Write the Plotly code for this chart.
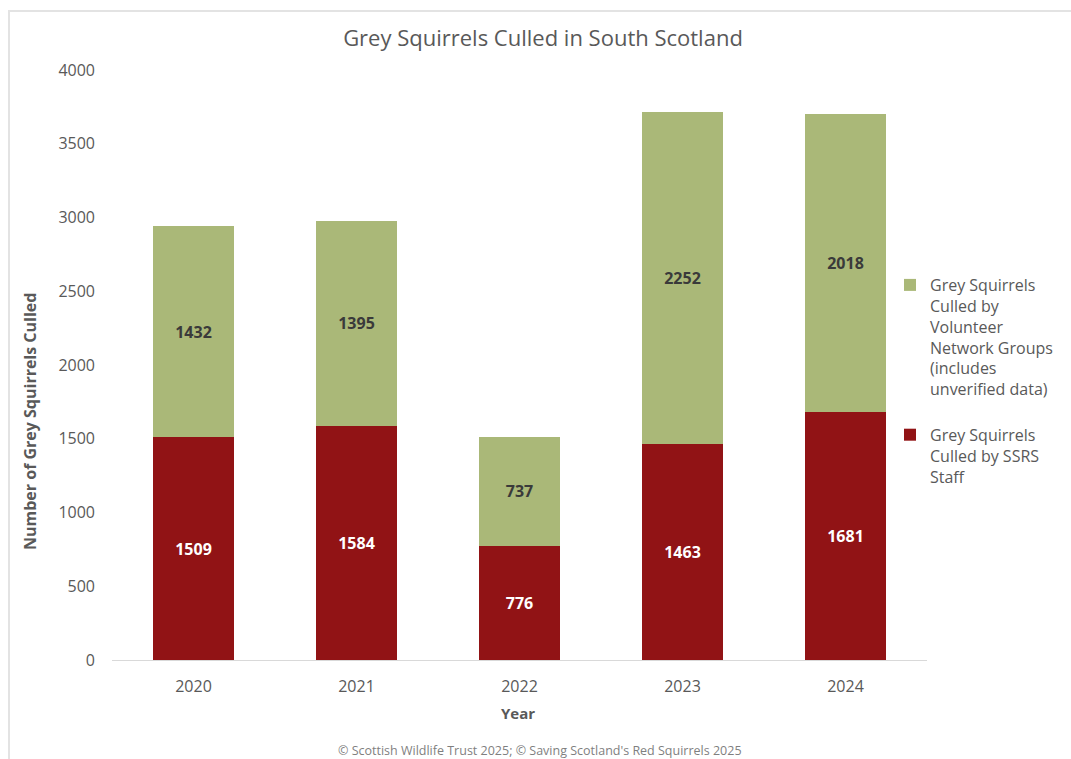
import plotly.graph_objects as go

# Annual grey squirrel culls, South Scotland
years = ["2020", "2021", "2022", "2023", "2024"]
staff_culls = [1509, 1584, 776, 1463, 1681]
volunteer_culls = [1432, 1395, 737, 2252, 2018]
y_ticks = [0, 500, 1000, 1500, 2000, 2500, 3000, 3500, 4000]

staff_name = "Grey Squirrels<br>Culled by SSRS<br>Staff"
volunteer_name = ("Grey Squirrels<br>Culled by<br>Volunteer<br>Network Groups"
                  "<br>(includes<br>unverified data)")

FONT = "Open Sans"
GREY = "#595959"
RED = "#911315"
GREEN = "#aab878"

# plot area in pixels
L, R, T, B = 112, 927, 70, 660
W, H = R - L, B - T

fig = go.Figure()
fig.add_trace(go.Bar(
    x=years, y=staff_culls, name=staff_name,
    marker=dict(color=RED, line=dict(width=0)),
    text=[str(v) for v in staff_culls], textposition="inside",
    insidetextanchor="middle", textangle=0,
    textfont=dict(family=FONT, size=16, color="white", weight="bold"),
    legendgroup="staff", legendrank=2,
))
fig.add_trace(go.Bar(
    x=years, y=volunteer_culls, name=volunteer_name,
    marker=dict(color=GREEN, line=dict(width=0)),
    text=[str(v) for v in volunteer_culls], textposition="inside",
    insidetextanchor="middle", textangle=0,
    textfont=dict(family=FONT, size=16, color="#3a3a3a", weight="bold"),
    legendgroup="volunteer", legendrank=1,
))

fig.update_layout(
    width=1071, height=759,
    barmode="stack", bargap=0.5,
    paper_bgcolor="white", plot_bgcolor="white",
    margin=dict(l=L, r=1071 - R, t=T, b=759 - B),
    font=dict(family=FONT, color=GREY),
    title=dict(text="Grey Squirrels Culled in South Scotland",
               x=0.507, xanchor="center", y=1 - 38 / 759, yanchor="middle",
               font=dict(family=FONT, size=22, color=GREY)),
    xaxis=dict(showgrid=False, showline=True, linecolor="#d9d9d9", linewidth=1,
               tickfont=dict(family=FONT, size=16, color=GREY),
               ticklabelstandoff=12),
    yaxis=dict(range=[0, 4000], tickvals=y_ticks, showgrid=False,
               zeroline=False, showline=False,
               tickfont=dict(family=FONT, size=16, color=GREY),
               ticklabelstandoff=16),
    legend=dict(x=(890 - L) / W, xanchor="left",
                y=1 - (268 - T) / H, yanchor="top",
                traceorder="grouped", valign="top",
                tracegroupgap=22, itemwidth=30,
                font=dict(family=FONT, size=16, color=GREY),
                bgcolor="rgba(0,0,0,0)"),
    showlegend=True,
)

# Axis titles and source note
fig.add_annotation(text="<b>Year</b>", xref="paper", yref="paper",
                   x=(518 - L) / W, y=-(713 - B) / H,
                   showarrow=False, yanchor="middle",
                   font=dict(family=FONT, size=15, color=GREY))
fig.add_annotation(text="<b>Number of Grey Squirrels Culled</b>", textangle=-90,
                   xref="paper", yref="paper",
                   x=-(L - 30) / W, y=(B - 422) / H,
                   showarrow=False, xanchor="center", yanchor="middle",
                   font=dict(family=FONT, size=16, color=GREY))
fig.add_annotation(text="© Scottish Wildlife Trust 2025; © Saving Scotland's Red Squirrels 2025",
                   xref="paper", yref="paper",
                   x=(540 - L) / W, y=-(750 - B) / H,
                   showarrow=False, yanchor="middle",
                   font=dict(family=FONT, size=12.5, color="#7f7f7f"))

# Thin frame around the chart area
fig.add_shape(type="rect", xref="paper", yref="paper",
              x0=-(L - 9) / W, x1=(1075 - L) / W,
              y0=-(770 - B) / H, y1=(B - 11) / H,
              line=dict(color="#e3e3e3", width=2), layer="below")

fig.write_html("out.html")
